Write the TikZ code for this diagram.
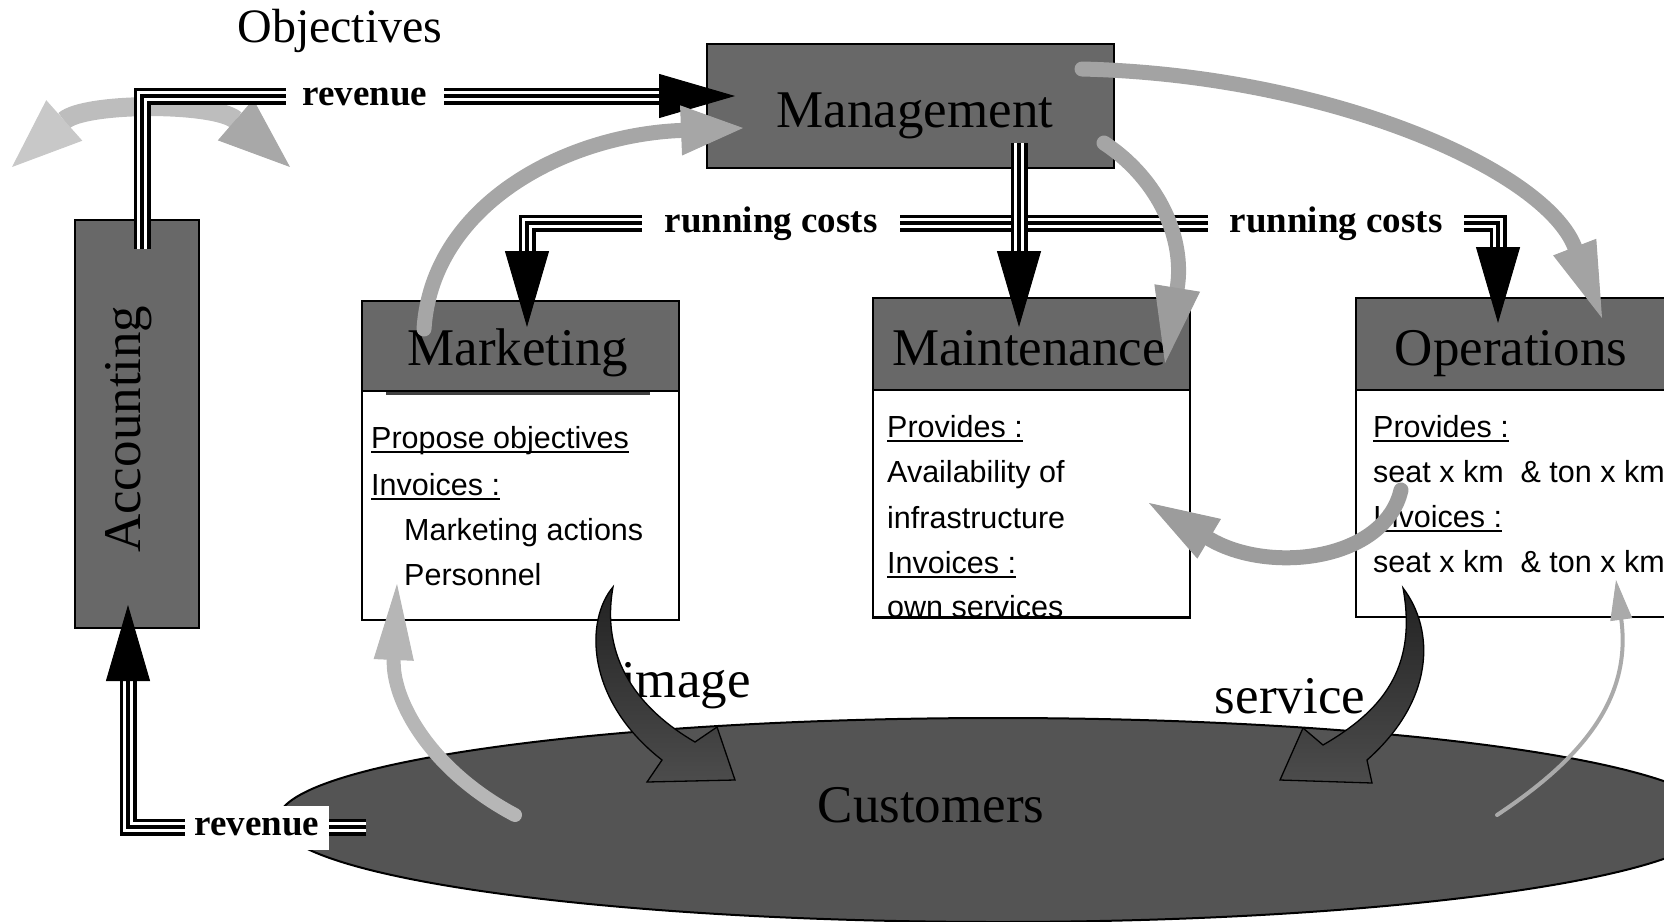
\documentclass[tikz,border=0pt]{standalone}
\usepackage{fontspec}
\setmainfont{Liberation Serif}
\newfontfamily\sansf{Liberation Sans}
\usetikzlibrary{arrows.meta,shapes.geometric}

\definecolor{boxg}{HTML}{686868}
\definecolor{custg}{HTML}{545454}
\definecolor{gMM}{HTML}{A6A6A6}
\definecolor{gMO}{HTML}{A3A3A3}
\definecolor{gMN}{HTML}{A5A5A5}
\definecolor{gON}{HTML}{9C9C9C}
\definecolor{gCM}{HTML}{B6B6B6}
\definecolor{gCO}{HTML}{AAAAAA}
\definecolor{gArc}{HTML}{BDBDBD}
\definecolor{gL}{HTML}{C8C8C8}
\definecolor{gR}{HTML}{A8A8A8}
\definecolor{dkA}{HTML}{222222}
\definecolor{dkB}{HTML}{4C4C4C}

\newcommand\myul[1]{\setbox0=\hbox{#1}\rlap{\rule[-5pt]{\wd0}{2pt}}\box0}
\newcommand\triparrow[1]{%
  \draw[line width=17pt,shorten >=74pt] #1;
  \draw[white,line width=10pt,shorten >=74pt] #1;
  \draw[line width=3.5pt,-{Triangle[width=44pt,length=76pt,line width=1pt]}] #1;}

\tikzset{
  hdr/.style={draw=black, line width=1.5pt, fill=boxg, inner sep=0pt},
  bodybox/.style={draw=black, line width=1.5pt, fill=white, inner sep=0pt},
  bigtxt/.style={font=\fontsize{53}{60}\selectfont, inner sep=0pt},
  btxt/.style={font=\sansf\fontsize{30.5}{36}\selectfont, anchor=base west, inner sep=0pt},
  lbl/.style={font=\bfseries\fontsize{37}{40}\selectfont, fill=white, inner ysep=0pt, text height=26pt, text depth=8pt},
  garr/.style={line cap=round, line width=15pt},
}

\begin{document}
\begin{tikzpicture}[x=1pt,y=-1pt]
\useasboundingbox (0,0) rectangle (1664,921);
\clip (0,0) rectangle (1664,921);

% customers ellipse
\node[ellipse, draw=black, line width=2pt, fill=custg, minimum width=1440, minimum height=204, inner sep=0pt] (cust) at (998,820) {};
\node[bigtxt, anchor=base] (custT) at (931,822) {Customers};

% boxes
\node[hdr, minimum width=124, minimum height=408] (acc) at (137,424) {};
\node[hdr, minimum width=407, minimum height=124] (mgmt) at (910.5,106) {};
\node[bodybox, minimum width=317, minimum height=229] (mktB) at (520.5,505.5) {};
\node[hdr, minimum width=317, minimum height=90] (mktH) at (520.5,346) {};
\node[bodybox, minimum width=317, minimum height=227] (mntB) at (1031.5,503.5) {};
\node[hdr, minimum width=317, minimum height=92] (mntH) at (1031.5,344) {};
\node[bodybox, minimum width=317, minimum height=227] (opsB) at (1514.5,503.5) {};
\node[hdr, minimum width=317, minimum height=92] (opsH) at (1514.5,344) {};
\draw[line width=3pt, black!75] (386,393) -- (650,393);

% titles
\node[bigtxt, anchor=base] (mgmtT) at (915,127) {Management};
\node[bigtxt, anchor=base] (mktT) at (518,365) {Marketing};
\node[bigtxt, anchor=base] (mntT) at (1029,365) {Maintenance};
\node[bigtxt, anchor=base] (opsT) at (1511,365) {Operations};
\node[bigtxt, rotate=90, anchor=base west] (accT) at (140,553) {Accounting};
\node[font=\fontsize{48}{50}\selectfont, anchor=base, inner sep=0pt] (objT) at (340,42) {Objectives};

% body texts
\node[btxt] (m1) at (371,448) {\myul{Propose objectives}};
\node[btxt] (m2) at (371,495) {\myul{Invoices :}};
\node[btxt] (m3) at (404,540) {Marketing actions};
\node[btxt] (m4) at (404,585) {Personnel};

\node[btxt] (n1) at (887,437) {\myul{Provides :}};
\node[btxt] (n2) at (887,482) {Availability of};
\node[btxt] (n3) at (887,528) {infrastructure};
\node[btxt] (n4) at (887,573) {\myul{Invoices :}};
\node[btxt] (n5) at (887,617) {own services};
\draw[line width=1.5pt] (mntB.south west) -- (mntB.south east);

\node[btxt] (o1) at (1373,437) {\myul{Provides :}};
\node[btxt] (o2) at (1373,482) {seat x km~ \& ton x km};
\node[btxt] (o3) at (1373,527) {\myul{Invoices :}};
\node[btxt] (o4) at (1373,572) {seat x km~ \& ton x km};

% double headed arc at top left
\coordinate (dL) at (12,167);
\coordinate (dR) at (290,167);
\draw[line width=19pt, draw=gArc, {Triangle[width=54pt,length=70pt,line width=1pt,color=gL]}-{Triangle[width=54pt,length=72pt,line width=1pt,color=gR]}]
  (dL) .. controls (85,102) and (215,102) .. (dR);

% triple lines
\coordinate (accTop) at (142,249);
\coordinate (mgmtIn) at (735,96);
\triparrow{(accTop) |- (mgmtIn)}
\node[lbl, inner xsep=17pt] (revT) at (365,96) {revenue};

\coordinate (mgmtBot) at (1019,143);
\coordinate (rcMid) at (1019,223);
\coordinate (mktIn) at (527,327);
\coordinate (mntIn) at (1019,327);
\coordinate (opsIn) at (1498,323);
\triparrow{(rcMid) -| (mktIn)}
\triparrow{(rcMid) -| (opsIn)}
\triparrow{(mgmtBot) -- (mntIn)}
\node[lbl, inner xsep=23pt] (rc1) at (771,223) {running costs};
\node[lbl, inner xsep=22pt] (rc2) at (1336,223) {running costs};

\coordinate (custIn) at (366,827);
\coordinate (accIn) at (128,605);
\triparrow{(custIn) -| (accIn)}
\node[lbl, inner xsep=10pt, text height=29pt, text depth=15pt] (revB) at (257,828) {revenue};

% gray arrows
\coordinate (a1s) at (424,329);
\coordinate (a1e) at (743,128);
\draw[garr, draw=gMM, -{Triangle[width=50pt,length=62pt,line width=1pt]}]
  (a1s) .. controls (432,205) and (565,135) .. (a1e);

\coordinate (a2s) at (1104,143);
\coordinate (a2e) at (1165,363);
\draw[garr, draw=gMN, -{Triangle[width=46pt,length=76pt,line width=1pt,color=gON]}]
  (a2s) .. controls (1160,180) and (1185,240) .. (a2e);

\coordinate (a3s) at (1082,69);
\coordinate (a3e) at (1602,318);
\draw[garr, draw=gMO, -{Triangle[width=46pt,length=76pt,line width=1pt]}]
  (a3s) .. controls (1330,75) and (1545,170) .. (a3e);

\coordinate (a4s) at (1401,490);
\coordinate (a4e) at (1149,503);
\draw[garr, draw=gON, -{Triangle[width=46pt,length=70pt,line width=1pt]}]
  (a4s) .. controls (1385,560) and (1270,575) .. (a4e);

\coordinate (a5s) at (515,815);
\coordinate (a5e) at (397,584);
\draw[garr, line width=14pt, draw=gCM, -{Triangle[width=40pt,length=76pt,line width=1pt]}]
  (a5s) .. controls (430,770) and (392,700) .. (a5e);

\coordinate (a6s) at (1497,815);
\coordinate (a6e) at (1616,580);
\draw[line cap=round, line width=4pt, draw=gCO, -{Triangle[width=22pt,length=40pt,line width=1pt]}]
  (a6s) .. controls (1580,760) and (1632,700) .. (a6e);

% image / service labels
\node[bigtxt, anchor=base] (imgT) at (686,697) {image};
\node[bigtxt, anchor=base] (srvT) at (1290,713) {service};

% dark curved arrows
\path[draw=black, line width=1.3pt, top color=dkA, bottom color=dkB]
  (613,587) .. controls (585,620) and (585,700) .. (662,760) -- (647,782) -- (735,780) -- (717,727) -- (695,742)
  .. controls (640,710) and (600,660) .. (613,587) -- cycle;
\path[draw=black, line width=1.3pt, top color=dkA, bottom color=dkB]
  (1403,588) .. controls (1435,630) and (1435,700) .. (1367,760) -- (1372,783) -- (1280,780) -- (1303,728) -- (1323,745)
  .. controls (1380,712) and (1418,670) .. (1403,588) -- cycle;

\end{tikzpicture}
\end{document}
